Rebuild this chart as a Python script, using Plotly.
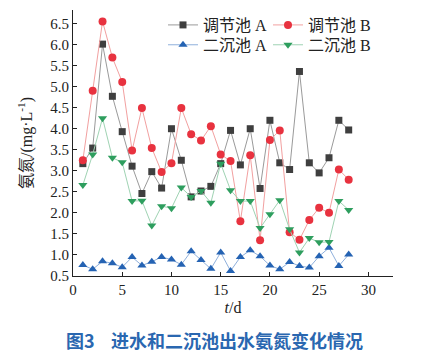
import plotly.graph_objects as go

days = list(range(1, 29))
pool_a = [3.17, 3.54, 6.01, 4.77, 3.93, 3.11, 2.46, 2.98, 2.59, 4.0, 3.25, 2.38, 2.52, 2.63,
          3.17, 3.96, 3.14, 4.0, 2.58, 4.2, 3.19, 3.03, 5.36, 3.19, 2.95, 3.31, 4.2, 3.97]
pool_b = [3.25, 4.9, 6.55, 5.69, 5.11, 3.48, 4.49, 3.54, 2.97, 3.18, 4.49, 3.87, 3.72, 4.06,
          3.39, 3.23, 1.8, 3.37, 1.35, 3.73, 3.96, 1.54, 1.36, 1.83, 2.12, 2.0, 3.03, 2.79]
sec_a = [0.76, 0.66, 0.85, 0.80, 0.71, 0.95, 0.75, 0.84, 0.95, 0.89, 0.77, 1.09, 0.88, 0.67,
         1.06, 0.62, 0.95, 1.11, 0.97, 0.75, 0.66, 0.83, 0.74, 0.70, 0.97, 1.17, 0.74, 1.01]
sec_b = [2.66, 3.39, 4.25, 3.31, 3.2, 2.28, 2.29, 1.70, 2.16, 2.11, 2.6, 2.38, 2.52, 2.24,
         3.17, 2.54, 2.28, 2.28, 1.64, 1.97, 2.3, 1.61, 1.06, 1.4, 1.3, 1.31, 2.28, 2.07]

names = ["调节池 A", "调节池 B", "二沉池 A", "二沉池 B"]
x_ticks = [0, 5, 10, 15, 20, 25, 30]
y_ticks = [0.5, 1.0, 1.5, 2.0, 2.5, 3.0, 3.5, 4.0, 4.5, 5.0, 5.5, 6.0, 6.5]

# page body has an 8px margin, so the figure is 8px smaller than the window
W, H = 420, 348
ml, mr, mt, mb = 65, 35, 0, 80
pw = W - ml - mr
ph = H - mt - mb


def px_x(p):
    return (p - ml) / pw


def px_y(p):
    return (H - mb - p) / ph


fig = go.Figure()
fig.add_trace(go.Scatter(x=days, y=pool_a, name=names[0], mode="lines+markers",
                         line=dict(color="#9a9a9a", width=1),
                         marker=dict(symbol="square", size=7, color="#3f3f3f"),
                         legend="legend", showlegend=True))
fig.add_trace(go.Scatter(x=days, y=pool_b, name=names[1], mode="lines+markers",
                         line=dict(color="#f2a0a0", width=1),
                         marker=dict(symbol="circle", size=8, color="#e8323f"),
                         legend="legend2", showlegend=True))
fig.add_trace(go.Scatter(x=days, y=sec_a, name=names[2], mode="lines+markers",
                         line=dict(color="#8fb0dc", width=1),
                         marker=dict(symbol="triangle-up", size=8, color="#2563b3"),
                         legend="legend3", showlegend=True))
fig.add_trace(go.Scatter(x=days, y=sec_b, name=names[3], mode="lines+markers",
                         line=dict(color="#9fd3b3", width=1),
                         marker=dict(symbol="triangle-down", size=8, color="#2e9e5e"),
                         legend="legend4", showlegend=True))

serif = "Liberation Serif, Noto Sans CJK SC"
leg_common = dict(font=dict(family=serif, size=16, color="#222"), bgcolor="rgba(0,0,0,0)",
                  yanchor="top", xanchor="left", itemwidth=30)

lx1, lx2 = 155, 260
ly1, ly2 = -2, 18

fig.update_layout(
    width=W, height=H,
    showlegend=True,
    margin=dict(l=ml, r=mr, t=mt, b=mb),
    paper_bgcolor="white", plot_bgcolor="white",
    font=dict(family=serif, size=14, color="#222"),
    legend=dict(x=px_x(lx1), y=px_y(ly1), **leg_common),
    legend2=dict(x=px_x(lx2), y=px_y(ly1), **leg_common),
    legend3=dict(x=px_x(lx1), y=px_y(ly2), **leg_common),
    legend4=dict(x=px_x(lx2), y=px_y(ly2), **leg_common),
    xaxis=dict(range=[0, 32.5], tickvals=x_ticks, ticks="inside", ticklen=4,
               tickcolor="#222", showline=True, linecolor="#222", linewidth=1,
               showgrid=False, zeroline=False, tickfont=dict(size=15),
               title=dict(text="<i>t</i>/d", font=dict(size=16), standoff=4)),
    yaxis=dict(range=[0.5, 0.5 + ph / 42.4], tickvals=y_ticks,
               ticktext=[f"{v:.1f}" for v in y_ticks], ticks="inside", ticklen=4,
               tickcolor="#222", showline=True, linecolor="#222", linewidth=1,
               showgrid=False, zeroline=False, tickfont=dict(size=15),
               title=dict(text="氨氮/(mg·L<sup>-1</sup>)", font=dict(size=16), standoff=13)),
)

fig.add_annotation(text="图3&nbsp;&nbsp;&nbsp;&nbsp;进水和二沉池出水氨氮变化情况", xref="paper", yref="paper",
                   x=px_x(56), y=px_y(332), xanchor="left", yanchor="middle",
                   showarrow=False,
                   font=dict(family="Noto Sans CJK SC", size=18, color="#2a67b0", weight="bold"))

fig.write_html("out.html")
